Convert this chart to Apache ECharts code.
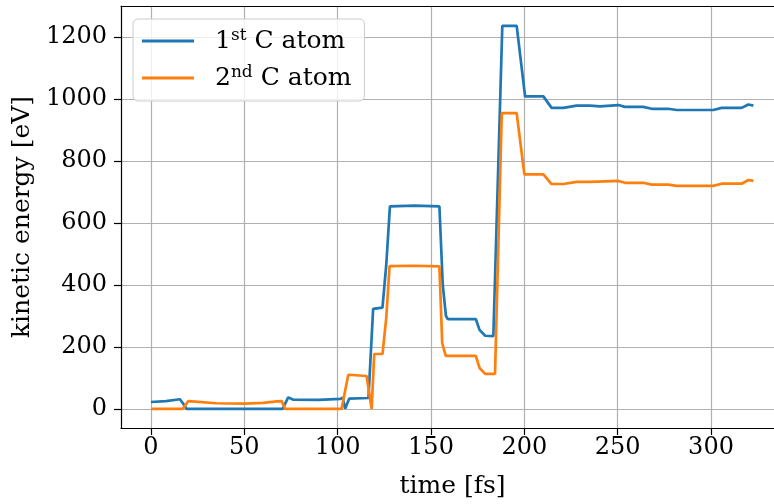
<!DOCTYPE html>
<html>
<head>
<meta charset="utf-8">
<script src="https://cdn.jsdelivr.net/npm/echarts@6/dist/echarts.min.js"></script>
<style>html,body{margin:0;padding:0;background:#fff;overflow:hidden;width:774px;height:504px;}#c{width:784px;height:504px;}</style>
</head>
<body>
<div id="c"></div>
<script>
const seriesNames = ['1st C atom', '2nd C atom'];
const xTicks = [0, 50, 100, 150, 200, 250, 300];
const yTicks = [0, 200, 400, 600, 800, 1000, 1200];

const time1 = [0, 8, 15.5, 17, 19, 70.5, 73.5, 76, 90, 101.3, 102.7, 104, 106.2, 116.5, 119, 124, 126, 128, 141, 154.5, 156.3, 158, 159, 174, 176, 179, 183.4, 188.2, 195.9, 200.4, 210.2, 214.6, 220.9, 228, 235.2, 240.5, 250.4, 253.9, 263.7, 268.2, 277.1, 281.6, 301.2, 305.7, 316.4, 320, 322.7];
const energy1 = [22, 25, 31, 19, 0, 0, 37, 30, 29, 32, 36, 0, 33, 35, 323, 327, 463, 654, 656, 654, 400, 300, 290, 290, 255, 236, 235, 1237, 1237, 1009, 1009, 972, 972, 979, 979, 977, 981, 975, 975, 969, 969, 965, 965, 972, 972, 983, 979];

const time2 = [0, 17, 20, 35, 50, 60, 67.3, 70, 71.8, 102.1, 105.7, 115.5, 116.5, 118.2, 119.6, 124, 126, 127.8, 141, 154.5, 156, 157.9, 174, 176, 179, 184.3, 187.9, 195.9, 200, 210.2, 214.6, 220.9, 228, 235.2, 250.4, 253.9, 263.7, 268.2, 277.1, 281.6, 301.2, 305.7, 316.4, 320, 322.7];
const energy2 = [0, 0, 25, 18, 17, 19, 24, 25, 0, 0, 110, 106, 112, 0, 177, 177, 292, 461, 462, 460, 212, 171, 171, 132, 113, 113, 955, 955, 757, 757, 726, 726, 733, 733, 736, 730, 730, 724, 724, 720, 720, 727, 727, 739, 736];

const FONT = '"DejaVu Serif", serif';
const chart = echarts.init(document.getElementById('c'), null, {renderer: 'canvas'});
const pairs = (t, v) => t.map((x, i) => [x, v[i]]);
const XMIN = -16.07, XMAX = 339.1;

chart.setOption({
  animation: false,
  backgroundColor: '#fff',
  textStyle: {fontFamily: FONT, color: '#000'},
  grid: {left: 121, top: 6, right: 0, bottom: 74},
  xAxis: [{
    type: 'value', min: XMIN, max: XMAX,
    name: 'time [fs]', nameLocation: 'middle', nameGap: 46,
    nameTextStyle: {fontFamily: FONT, fontSize: 25, color: '#000'},
    axisLine: {show: true, onZero: false, lineStyle: {color: '#000', width: 1.2}},
    axisTick: {show: true, length: 7, customValues: xTicks, lineStyle: {color: '#000', width: 1.2}},
    axisLabel: {customValues: xTicks, fontFamily: FONT, fontSize: 24, color: '#000', margin: 8,
      formatter: v => String(v)},
    splitLine: {show: true, lineStyle: {color: '#b0b0b0', width: 1.2}}
  }, {
    type: 'value', position: 'top', min: XMIN, max: XMAX,
    axisLine: {show: true, onZero: false, lineStyle: {color: '#000', width: 1.2}},
    axisTick: {show: false}, axisLabel: {show: false}, splitLine: {show: false}
  }],
  yAxis: {
    type: 'value', min: -61.9, max: 1300.9,
    name: 'kinetic energy [eV]', nameLocation: 'middle', nameGap: 82, nameRotate: 90,
    nameTextStyle: {fontFamily: FONT, fontSize: 25, color: '#000'},
    axisLine: {show: true, onZero: false, lineStyle: {color: '#000', width: 1.2}},
    axisTick: {show: true, length: 7, customValues: yTicks, lineStyle: {color: '#000', width: 1.2}},
    axisLabel: {customValues: yTicks, fontFamily: FONT, fontSize: 24, color: '#000', margin: 14,
      formatter: v => String(v)},
    splitLine: {show: true, lineStyle: {color: '#b0b0b0', width: 1.2}}
  },
  legend: {
    orient: 'vertical', left: 133, top: 19,
    padding: [8, 13, 9, 9], itemGap: 9,
    itemWidth: 52, itemHeight: 3, icon: 'rect',
    backgroundColor: 'rgba(255,255,255,0.8)', borderColor: '#cccccc', borderWidth: 1, borderRadius: 5,
    data: seriesNames,
    formatter: function (name) {
      const parts = name.split(' ');
      const num = parts[0].charAt(0);
      const suf = parts[0].slice(1);
      return '{n|' + num + '}{s|' + suf + '}{n| ' + parts.slice(1).join(' ') + '}';
    },
    textStyle: {
      fontFamily: FONT, fontSize: 25, color: '#000', lineHeight: 28, padding: [0, 0, 0, 16],
      rich: {
        n: {fontFamily: FONT, fontSize: 25, color: '#000', lineHeight: 28},
        s: {fontFamily: FONT, fontSize: 17, color: '#000', lineHeight: 16, verticalAlign: 'top'}
      }
    }
  },
  series: [
    {name: seriesNames[0], type: 'line', data: pairs(time1, energy1), showSymbol: false, symbol: 'none',
     color: '#1f77b4', lineStyle: {color: '#1f77b4', width: 2.7}, z: 3},
    {name: seriesNames[1], type: 'line', data: pairs(time2, energy2), showSymbol: false, symbol: 'none',
     color: '#ff7f0e', lineStyle: {color: '#ff7f0e', width: 2.7}, z: 4}
  ]
});
</script>
</body>
</html>
